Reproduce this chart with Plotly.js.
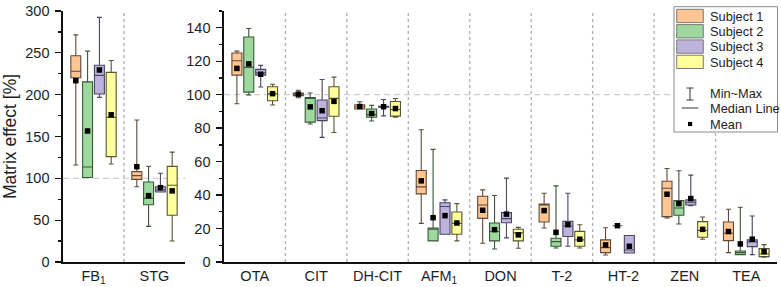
<!DOCTYPE html>
<html>
<head>
<meta charset="utf-8">
<script src="https://cdn.plot.ly/plotly-3.0.1.min.js"></script>
<style>
  html, body { margin: 0; padding: 0; background: #fff; }
  #chart { width: 781px; height: 287px; }
</style>
</head>
<body>
<div id="chart"></div>
<script>
// Compounds: the first two share the 0-300 % scale, the rest the 0-150 % scale
const leftCompounds = ['FB<sub>1</sub>', 'STG'];
const rightCompounds = ['OTA', 'CIT', 'DH-CIT', 'AFM<sub>1</sub>', 'DON', 'T-2', 'HT-2', 'ZEN', 'TEA'];
const subjects = ['Subject 1', 'Subject 2', 'Subject 3', 'Subject 4'];

// Matrix effect [%] statistics; rows = subjects, columns = leftCompounds then rightCompounds
const minVals = [
  [116, 90, 94.6, 98.2, 91.4, 23.1, 11.2, 20.3, 4.2, 26.3, 5.6],
  [101, 42.6, 99.9, 82.5, 84.3, 12.6, 7.8, 8.4, 21.5, 22.7, 4.4],
  [196.8, 83.7, 104.6, 74.5, 87.3, 16.6, 14.4, 9.4, 5.4, 33.7, 4.4],
  [117.1, 25.1, 93.8, 77.4, 86.6, 12.6, 8.2, 8.4, null, 13.6, 2.8]
];
const q1Vals = [
  [220.3, 98.8, 111.7, 99.4, 91.4, 40.7, 26.1, 23.9, 5.6, 27.1, 12.8],
  [101, 68.5, 101.5, 83.6, 86.5, 12.6, 12.6, 9.4, 21.7, 27.9, 4.4],
  [200.8, 83.7, 111.7, 84.5, 92.5, 16.6, 23.5, 15.2, 5.4, 34.1, 9.2],
  [125.9, 55.8, 96.4, 87.1, 87.2, 16.6, 12.6, 9.4, null, 14.8, 3.2]
];
const medianVals = [
  [228, 103.2, 120.3, 100.3, 92.8, 44.9, 34.1, 34.5, 8.6, 44.1, 17.2],
  [113.5, 76.1, 116.3, 97.7, 88.1, 19.6, 18.2, 12.2, 21.7, 32.3, 5.6],
  [223, 86, 113, 86.1, 92.8, 33.2, 25.9, 21.5, 7.2, 35.7, 12],
  [172.9, 91.8, 100.5, 97.8, 91.1, 23.1, 17.4, 13.2, null, 18.9, 4.8]
];
const q3Vals = [
  [246.6, 108, 124.9, 101, 94, 54.7, 39.3, 34.7, 13.2, 48.3, 23.9],
  [215.3, 95.6, 134.5, 98.3, 91.4, 20.3, 23.3, 14.2, 21.7, 36.7, 6.6],
  [235.2, 90, 115.1, 96.8, 93.1, 35.4, 29.5, 24.3, 15.8, 37.1, 13.2],
  [226.7, 114.3, 104.7, 104.7, 95.9, 29.9, 19.6, 18.3, null, 24.1, 8]
];
const maxVals = [
  [271.5, 169.7, 126, 102.6, 95.8, 79, 43.1, 41.1, 20.5, 55.9, 31.5],
  [252, 114.5, 139.5, 101, 93.6, 67.3, 39.7, 45.5, 21.9, 54.5, 32.7],
  [292.4, 106, 117.5, 109.1, 97.1, 37.1, 50.1, 41.1, 15.8, 51.9, 27.5],
  [240.8, 131.3, 106.2, 110.5, 97.7, 34.9, 20.7, 22.3, null, 26.9, 10.4]
];
const meanVals = [
  [216.7, 113.9, 115.7, 100.3, 92.9, 48.5, 30.9, 30.7, 10.2, 40.5, 18.2],
  [156.6, 79.3, 118.4, 92.7, 88.7, 26.5, 19.3, 17.7, 21.7, 34.9, 10.8],
  [229.5, 88.8, 112.2, 90.4, 92.8, 27.7, 28.6, 22.3, 9.4, 37.9, 13.6],
  [175.9, 85, 100.6, 96, 91.7, 23.3, 16.2, 13.6, null, 19.5, 6.2]
];

// Styling
const fills = ['#FFC592', '#9DD99D', '#BEB3DD', '#FFFF9C'];
const edges = ['#5f4a39', '#3a573a', '#4a4660', '#555533'];
const slotOffset = [-0.29, -0.097, 0.097, 0.29];
const boxWidth = 0.163;
const W = 781, H = 287, M = {l: 0, r: 0, t: 11, b: 25};

const panels = [
  {names: leftCompounds, start: 0, xa: 'x', ya: 'y'},
  {names: rightCompounds, start: leftCompounds.length, xa: 'x2', ya: 'y2'}
];

const traces = [];
const meanTraces = [];
panels.forEach(p => {
  subjects.forEach((subj, s) => {
    const xs = [], lo = [], a = [], m = [], b = [], hi = [], mu = [];
    p.names.forEach((_, i) => {
      const c = p.start + i;
      if (q1Vals[s][c] == null) return;
      xs.push(i + slotOffset[s]);
      lo.push(minVals[s][c]); a.push(q1Vals[s][c]); m.push(medianVals[s][c]);
      b.push(q3Vals[s][c]); hi.push(maxVals[s][c]); mu.push(meanVals[s][c]);
    });
    traces.push({
      type: 'box', name: subj, orientation: 'v',
      x: xs, q1: a, median: m, q3: b, lowerfence: lo, upperfence: hi,
      width: boxWidth, whiskerwidth: 0.5, boxpoints: false,
      fillcolor: fills[s], line: {color: edges[s], width: 1.1},
      xaxis: p.xa, yaxis: p.ya, showlegend: false, hoverinfo: 'skip'
    });
    meanTraces.push({
      type: 'scatter', mode: 'markers', name: subj + ' mean',
      x: xs, y: mu, marker: {symbol: 'square', size: 5.5, color: '#000'},
      xaxis: p.xa, yaxis: p.ya, showlegend: false, hoverinfo: 'skip', cliponaxis: false
    });
  });
});

// pixel -> paper helpers for the hand-built key
const px = v => (v - M.l) / (W - M.l - M.r);
const py = v => (H - M.b - v) / (H - M.t - M.b);

const shapes = [];
const annotations = [];

// category separators and 100 % reference line in each panel
panels.forEach(p => {
  for (let i = 0; i < p.names.length - 1; i++) {
    shapes.push({type: 'line', xref: p.xa, yref: p.ya + ' domain', x0: i + 0.5, x1: i + 0.5, y0: 0, y1: 1,
      line: {color: '#b4b4b4', width: 1.4, dash: 'dot'}, layer: 'below'});
  }
  shapes.push({type: 'line', xref: p.xa + ' domain', yref: p.ya, x0: 0, x1: 1, y0: 100, y1: 100,
    line: {color: '#cfcfcf', width: 1.2, dash: '6px,4px'}, layer: 'below'});
});

// key box
shapes.push({type: 'rect', xref: 'paper', yref: 'paper', x0: px(674), x1: px(777.5), y0: py(6.7), y1: py(132),
  fillcolor: '#fff', line: {color: '#8a8a8a', width: 1}, layer: 'above'});
subjects.forEach((subj, s) => {
  const top = 9.3 + s * 15.3;
  shapes.push({type: 'rect', xref: 'paper', yref: 'paper', x0: px(676.7), x1: px(703.3), y0: py(top), y1: py(top + 13.3),
    fillcolor: fills[s], line: {color: '#7a7a7a', width: 1}, layer: 'above'});
  annotations.push({xref: 'paper', yref: 'paper', x: px(707.5), y: py(top + 6.8), text: subj,
    xanchor: 'left', yanchor: 'middle', showarrow: false, font: {size: 12.8, color: '#1e1e1e'}});
});
// min~max symbol
const kl = {color: '#333', width: 1};
shapes.push({type: 'line', xref: 'paper', yref: 'paper', x0: px(690), x1: px(690), y0: py(88), y1: py(100), line: kl, layer: 'above'});
shapes.push({type: 'line', xref: 'paper', yref: 'paper', x0: px(686.5), x1: px(693.5), y0: py(88), y1: py(88), line: kl, layer: 'above'});
shapes.push({type: 'line', xref: 'paper', yref: 'paper', x0: px(686.5), x1: px(693.5), y0: py(100), y1: py(100), line: kl, layer: 'above'});
// median line symbol
shapes.push({type: 'line', xref: 'paper', yref: 'paper', x0: px(681.7), x1: px(698.3), y0: py(108), y1: py(108), line: kl, layer: 'above'});
// mean symbol
shapes.push({type: 'rect', xref: 'paper', yref: 'paper', x0: px(688), x1: px(692.2), y0: py(121.9), y1: py(126.1),
  fillcolor: '#000', line: {width: 0}, layer: 'above'});
[['Min~Max', 93.8], ['Median Line', 108.3], ['Mean', 124.2]].forEach(([t, y]) => {
  annotations.push({xref: 'paper', yref: 'paper', x: px(707.5), y: py(y), text: t,
    xanchor: 'left', yanchor: 'middle', showarrow: false, font: {size: 12.8, color: '#1e1e1e'}});
});

const xCommon = {showline: true, linecolor: '#111', linewidth: 1.6, ticks: '', showgrid: false,
  zeroline: false, tickfont: {size: 14.5, color: '#1e1e1e'}, fixedrange: true};
const yCommon = {showline: true, linecolor: '#111', linewidth: 1.6, ticks: 'outside', ticklen: 6,
  tickwidth: 1.3, tickcolor: '#111', showgrid: false, zeroline: false, ticklabelstandoff: 3,
  tickfont: {size: 14.5, color: '#1e1e1e'}, fixedrange: true};

const layout = {
  width: W, height: H, margin: M,
  paper_bgcolor: '#fff', plot_bgcolor: 'rgba(0,0,0,0)',
  font: {family: 'Liberation Sans, Arial, sans-serif', size: 14, color: '#1e1e1e'},
  boxmode: 'overlay', showlegend: false,
  xaxis: Object.assign({}, xCommon, {domain: [px(63), px(185)], range: [-0.5, leftCompounds.length - 0.5],
    tickvals: leftCompounds.map((_, i) => i), ticktext: leftCompounds, anchor: 'y'}),
  xaxis2: Object.assign({}, xCommon, {domain: [px(224), px(777)], range: [-0.5, rightCompounds.length - 0.5],
    tickvals: rightCompounds.map((_, i) => i), ticktext: rightCompounds, anchor: 'y2'}),
  yaxis: Object.assign({}, yCommon, {range: [0, 300], dtick: 50, anchor: 'x',
    minor: {dtick: 25, ticklen: 3.5, ticks: 'outside', tickcolor: '#111', tickwidth: 1.3},
    title: {text: 'Matrix effect [%]', font: {size: 17.5, color: '#1e1e1e'}, standoff: 8}}),
  yaxis2: Object.assign({}, yCommon, {range: [0, 150], dtick: 20, anchor: 'x2',
    minor: {dtick: 10, ticklen: 3.5, ticks: 'outside', tickcolor: '#111', tickwidth: 1.3}}),
  shapes: shapes,
  annotations: annotations
};

Plotly.newPlot('chart', traces.concat(meanTraces), layout, {displayModeBar: false, staticPlot: true});
</script>
</body>
</html>
